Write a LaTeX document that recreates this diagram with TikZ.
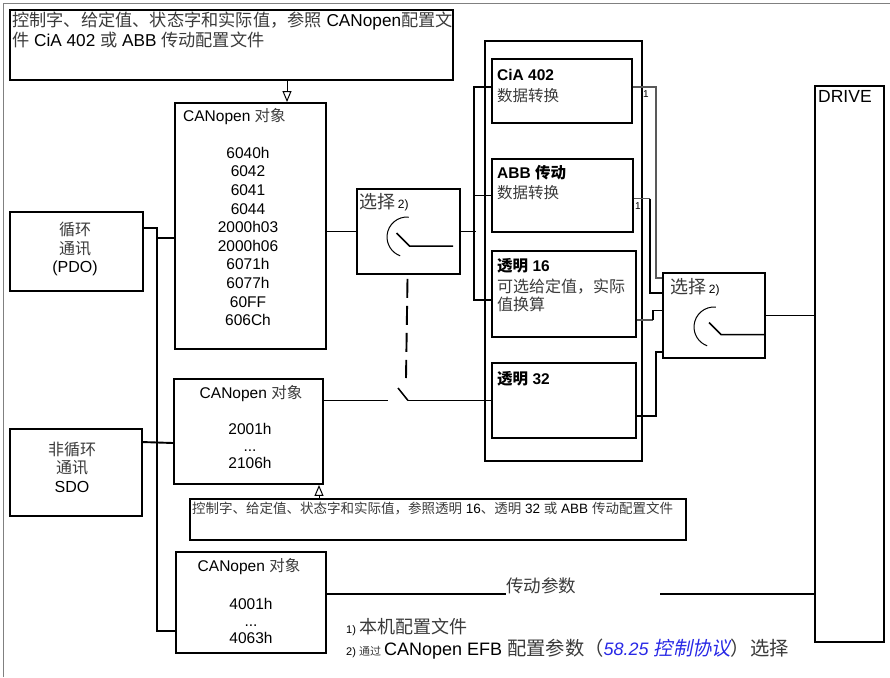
\documentclass[tikz,border=0pt]{standalone}
\usepackage{fontspec}
\setmainfont{Liberation Sans}
\newfontfamily\zh[Color=3A3A3A, BoldFeatures={Color=000000}]{Noto Sans CJK SC}
\newfontfamily\zhit[FakeSlant=0.2]{Noto Sans CJK SC}
\newcommand{\fsz}[2]{\fontsize{#1}{#2}\selectfont}
\usepackage{xcolor}
\definecolor{linkblue}{RGB}{40,40,230}
\usepackage{tikz}
\usetikzlibrary{arrows.meta, positioning, calc}

\begin{document}
\begin{tikzpicture}[
        x=1pt, y=-1pt,
        box/.style={rectangle, draw, line width=1.9pt, inner sep=0pt},
        wire/.style={line width=1.9pt},
        thin wire/.style={draw=black!65, line width=1.2pt},
        lbl/.style={inner sep=0pt, font=\fsz{15.5}{18.6}, align=center},
        title/.style={inner sep=0pt, anchor=west, font=\bfseries\fsz{15.5}{18}},
        tip/.style={line width=1pt, -{Triangle[open, width=9pt, length=11pt]}}
    ]
        \useasboundingbox (0,0) rectangle (890,677);
        % Frame
        \draw[gray, line width=0.8pt] (3,677) -- (3,3) -- (890,3);

        % Note on top
        \node[box, line width=2.3pt, minimum width=443, minimum height=70] (note1) at (231.5,45) {};
        \node[inner sep=0pt, anchor=north west, align=left, font=\fsz{17.2}{20}] (note1 text) at (12,12)
            {{\zh 控制字、给定值、状态字和实际值，参照} CANopen{\zh 配置文}\\{\zh 件} CiA 402 {\zh 或} ABB {\zh 传动配置文件}};

        % Cyclic / acyclic
        \node[box, minimum width=133, minimum height=79] (cyc) at (76.5,251.5) {};
        \node[lbl, font=\fsz{16}{18.5}] (cyc text) at (75,249) {{\zh 循环}\\{\zh 通讯}\\(PDO)};
        \node[box, minimum width=132, minimum height=87] (acyc) at (76,472.5) {};
        \node[lbl, font=\fsz{16}{18.5}] (acyc text) at (72,467) {{\zh 非循环}\\{\zh 通讯}\\SDO};

        % CANopen objects
        \node[box, minimum width=151, minimum height=246] (obj1) at (250.5,226) {};
        \node[lbl, anchor=west] (obj1 title) at (183,117) {CANopen {\zh 对象}};
        \node[lbl] (obj1 list) at (248,236.5) {6040h\\6042\\6041\\6044\\2000h03\\2000h06\\6071h\\6077h\\60FF\\606Ch};
        \node[box, minimum width=149, minimum height=105] (obj2) at (248.5,431.5) {};
        \node[lbl] (obj2 title) at (251,394) {CANopen {\zh 对象}};
        \node[lbl, font=\fsz{15.5}{17}] (obj2 list) at (250,446) {2001h\\...\\2106h};
        \node[box, minimum width=150, minimum height=101] (obj3) at (251,602.5) {};
        \node[lbl] (obj3 title) at (249,567) {CANopen {\zh 对象}};
        \node[lbl, font=\fsz{15.5}{17}] (obj3 list) at (251,621) {4001h\\...\\4063h};

        % Note at bottom
        \node[box, minimum width=496, minimum height=41] (note2) at (438,519.5) {};
        \node[inner sep=0pt, anchor=west, font=\fsz{13.5}{16}] (note2 text) at (192,508)
            {{\zh 控制字、给定值、状态字和实际值，参照透明} 16{\zh 、透明} 32 {\zh 或} ABB {\zh 传动配置文件}};

        % Selector 1
        \node[box, minimum width=103, minimum height=85] (sel1) at (408.5,231.5) {};
        \node[inner sep=0pt, anchor=west] (sel1 label) at (359,202) {{\zh\fsz{18}{20}选择} {\fsz{12}{14}2)}};
        \begin{scope}[shift={(sel1.center)}]
            \draw[line width=1pt] (-1.5,5.5) ++(-85:20) arc[start angle=-85, end angle=-250, radius=20];
            \draw[line width=1.5pt] (-12,1.5) -- (1,14.5) -- (44.5,14.5);
        \end{scope}

        % Profiles
        \node[box, minimum width=157, minimum height=420] (profiles) at (563.5,251) {};
        \node[box, minimum width=140, minimum height=64] (cia) at (562,91) {};
        \node[title] (cia title) at (497,75) {CiA 402};
        \node[lbl, anchor=west, font=\zh\fsz{15.5}{18}] (cia text) at (497,96) {数据转换};
        \node[box, minimum width=141, minimum height=73] (abb) at (562.5,195.5) {};
        \node[title] (abb title) at (497,173) {ABB {\zh 传动}};
        \node[lbl, anchor=west, font=\zh\fsz{15.5}{18}] (abb text) at (497,193) {数据转换};
        \node[box, minimum width=144, minimum height=86] (t16) at (564,294) {};
        \node[title] (t16 title) at (497,266) {{\zh 透明} 16};
        \node[lbl, anchor=west, align=left, font=\zh\fsz{16}{18}] (t16 text) at (497,295) {可选给定值，实际\\值换算};
        \node[box, minimum width=144, minimum height=75] (t32) at (564,400.5) {};
        \node[title] (t32 title) at (497,379) {{\zh 透明} 32};

        % Selector 2
        \node[box, minimum width=102, minimum height=85] (sel2) at (714,315.5) {};
        \node[inner sep=0pt, anchor=west] (sel2 label) at (670,287) {{\zh\fsz{18}{20}选择} {\fsz{12}{14}2)}};
        \begin{scope}[shift={(sel2.center)}]
            \draw[line width=1pt] (0,11.5) ++(-85:20) arc[start angle=-85, end angle=-250, radius=20];
            \draw[line width=1.5pt] (-5,7) -- (7,19) -- (51,19);
        \end{scope}

        % Drive
        \node[box, minimum width=69, minimum height=556] (drive) at (849.5,364) {};
        \node[inner sep=0pt, anchor=north west, font=\fsz{17.5}{20}] (drive label) at (818,90) {DRIVE};
        \node[inner sep=0pt, anchor=south west, font=\zh\fsz{17.5}{20}] (params) at (506,594) {传动参数};

        % Connections
        \draw[tip] (note1.south -| 287,0) -- (obj1.north -| 287,0);
        \draw[tip] (note2.north -| 319,0) -- (obj2.south -| 319,0);
        \draw[wire] ($(cyc.north east)+(0,17)$) -| ($(obj3.west)+(-18,28.5)$) -- ($(obj3.west)+(0,28.5)$);
        \draw[wire] ($(obj1.west)+(-17,12)$) -- ($(obj1.west)+(0,12)$);
        \draw[wire] ($(acyc.north east)+(0,14)$) -- ($(obj2.west)+(0,11.5)$);
        \draw[wire] (sel1.west -| obj1.east) -- (sel1.west);
        \draw[wire] (sel1.east) -- ++(15,0);
        \draw[wire] ($(cia.west)+(0,-4)$) -| ($(t16.west)+(-17,6)$) -- ($(t16.west)+(0,6)$);
        \draw[wire] (abb.west) -- ++(-17,0);
        % Switch in the SDO path
        \coordinate (sw2) at (408,400.5);
        \draw[wire] (t32.west -| obj2.east) -- ++(64,0);
        \draw[line width=1.5pt] (398,388) -- (sw2);
        \draw[wire] (sw2) -- (t32.west);
        \draw[wire, dash pattern=on 19pt off 8pt] ($(sel1.south)+(-1,4)$) -- (406,378);
        % Into selector 2
        \draw[thin wire] ($(cia.east)+(0,-4)$) -- ++(23,0) |- ($(sel2.west)+(0,-37.5)$);
        \node[inner sep=0pt, font=\fsz{10}{12}] (cia one) at (646,94) {1};
        \draw[thin wire] ($(abb.east)+(0,3)$) -- ++(16,0) coordinate (abb out);
        \draw[wire] (abb out) |- ($(sel2.west)+(0,-22.5)$);
        \node[inner sep=0pt, font=\fsz{10}{12}] (abb one) at (638,206) {1};
        \draw[thin wire] ($(t16.east)+(0,26)$) -- ++(16,0) coordinate (t16 out);
        \draw[wire] (t16 out) |- ($(sel2.west)+(0,-5)$);
        \draw[wire] ($(t32.east)+(0,15.5)$) -- ++(19,0) |- ($(sel2.west)+(0,36.5)$);
        \draw[wire] (sel2.east) -- (sel2.east -| drive.west);
        \draw[wire] (obj3.east |- params.south west) -- (params.south west);
        \draw[wire] (params.south east) ++(84,0) -- (params.south east -| drive.west);

        % Footnotes
        \node[inner sep=0pt, anchor=west] (foot1) at (346,627) {\fsz{11}{13}1) {\zh\fsz{18}{20}本机配置文件}};
        \node[inner sep=0pt, anchor=west] (foot2) at (346,649)
            {\fsz{11}{13}2) {\zh 通过} \fsz{18}{20}CANopen EFB {\zh\fsz{19.3}{22}配置参数（}\textcolor{linkblue}{\itshape 58.25 {\zhit\fsz{19.3}{22}控制协议}}{\zh\fsz{19.3}{22}）选择}};
    \end{tikzpicture}
\end{document}
